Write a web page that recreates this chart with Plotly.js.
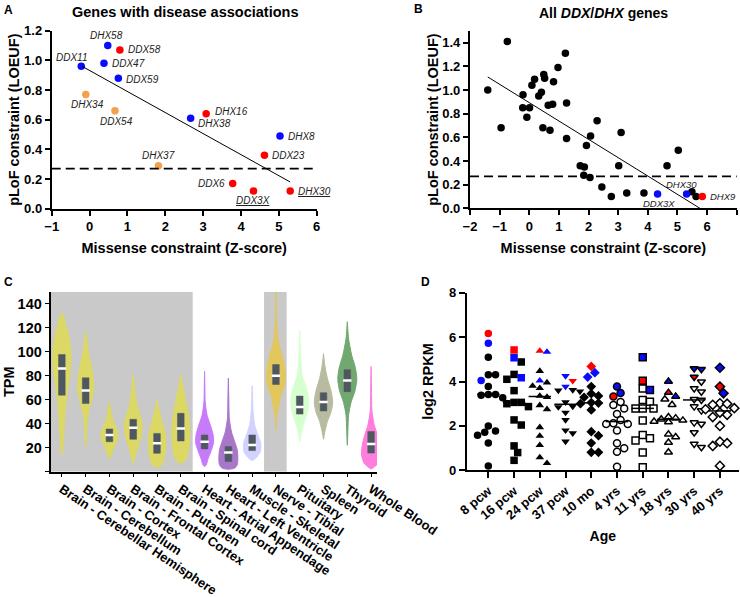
<!DOCTYPE html>
<html>
<head>
<meta charset="utf-8">
<script src="https://cdn.plot.ly/plotly-3.0.1.min.js"></script>
<style>
  html, body { margin: 0; padding: 0; background: #fff; }
  #chart { width: 740px; height: 597px; }
</style>
</head>
<body>
<div id="chart"></div>
<script>
// ---- Panel A: genes with disease associations ----
const aGenes = ['DHX58', 'DDX58', 'DDX11', 'DDX47', 'DDX59', 'DHX34', 'DDX54', 'DHX38', 'DHX16', 'DHX8', 'DDX23', 'DHX37', 'DDX6', 'DDX3X', 'DHX30'];
const aMissenseZ = [0.48, 0.80, -0.22, 0.38, 0.76, -0.10, 0.67, 2.67, 3.08, 5.03, 4.62, 1.82, 3.78, 4.33, 5.30];
const aLoeuf = [1.10, 1.07, 0.96, 0.98, 0.88, 0.77, 0.66, 0.61, 0.64, 0.49, 0.36, 0.29, 0.17, 0.12, 0.12];
const aGroup = ['blue', 'red', 'blue', 'blue', 'blue', 'orange', 'orange', 'blue', 'red', 'blue', 'red', 'orange', 'red', 'red', 'red'];
const aUnderlined = ['DDX3X', 'DHX30'];
const aFitZ = [-0.2, 5.3];
const aFitLoeuf = [0.96, 0.18];
const loeufCutoff = 0.27;

// ---- Panel B: all DDX/DHX genes ----
const bMissenseZ = [-1.40, -0.74, -0.95, -0.21, -0.22, 0.01, -0.08, 0.09, 0.18, 0.32, 0.41, 0.49, 0.52, 0.46, 0.64, 0.79, 0.70, 0.82, 0.97, 1.22,
                    1.26, 1.26, 1.72, 1.86, 1.84, 1.93, 2.07, 2.05, 2.29, 2.45, 2.77, 3.02, 3.10, 3.29, 3.87, 4.65, 5.03, 5.49, 5.63];
const bLoeuf = [1.00, 1.41, 0.68, 0.96, 0.85, 0.85, 0.77, 1.04, 1.09, 0.95, 0.98, 1.13, 1.10, 0.68, 0.87, 0.88, 0.66, 1.07, 1.19, 1.31,
                0.89, 0.59, 0.36, 0.35, 0.28, 0.53, 0.61, 0.26, 0.74, 0.18, 0.10, 0.36, 0.64, 0.13, 0.13, 0.36, 0.49, 0.14, 0.10];
const bHiGenes = ['DDX3X', 'DHX30', 'DHX9'];
const bHiMissenseZ = [4.33, 5.31, 5.84];
const bHiLoeuf = [0.12, 0.12, 0.10];
const bHiGroup = ['blue', 'blue', 'red'];
const bFitZ = [-1.4, 5.76];
const bFitLoeuf = [1.11, 0.0];

// ---- Panel C: expression across tissues (TPM) ----
const tissues = ['Brain - Cerebellar Hemisphere', 'Brain - Cerebellum', 'Brain - Cortex', 'Brain - Frontal Cortex', 'Brain - Putamen',
                 'Brain - Spinal cord', 'Heart - Atrial Appendage', 'Heart - Left Ventricle', 'Muscle - Skeletal', 'Nerve - Tibial',
                 'Pituitary', 'Spleen', 'Thyroid', 'Whole Blood'];
const tpmQ1 = [63.8, 56.8, 25.0, 27.0, 15.3, 25.6, 19.0, 8.5, 17.6, 72.7, 48.0, 50.6, 66.7, 15.5];
const tpmMedian = [86.0, 67.7, 30.6, 36.7, 23.6, 36.0, 25.0, 16.0, 22.3, 80.0, 54.0, 58.0, 76.0, 23.0];
const tpmQ3 = [97.6, 78.2, 35.6, 43.6, 31.9, 48.6, 30.6, 21.0, 30.6, 89.3, 63.0, 65.8, 85.0, 33.5];
// violin outline: TPM levels and relative density at each level (0-30)
const violinTpm = [
  [13.9, 18, 30, 45, 55, 64, 72, 80, 89, 97, 105, 114, 122, 130, 133],
  [21, 25, 33, 44.5, 53, 61, 69, 78, 89, 100, 110, 117.8],
  [10.7, 14, 17, 22, 26, 30.6, 36, 41, 47, 53, 58],
  [7, 10, 14, 22, 30.6, 39, 47, 53, 58, 65, 72, 81],
  [3.5, 5, 8.5, 16.8, 25, 33, 41.6, 52, 60.5],
  [6.8, 8, 10, 17, 28, 39, 50, 61, 72, 81.5],
  [4.3, 6, 10, 17, 24, 30.6, 39, 47, 58, 70, 83.6],
  [2.0, 3, 5.7, 11, 18, 25, 33, 44.5, 60, 78],
  [9.3, 11, 12.6, 16.8, 24, 30.6, 39, 50, 60, 71.6],
  [34.6, 44.5, 52.8, 64, 72, 80.5, 89, 100, 111, 128, 140, 150],
  [25, 30, 36, 44.5, 52.8, 61, 69, 80, 94, 105, 117.8],
  [27, 33, 41.6, 50, 58, 67, 78, 89, 98.5],
  [22, 35, 47, 58, 67, 77, 86, 97, 111, 125],
  [2.3, 4, 7, 14, 22, 30.6, 39, 50, 65, 87.8]
];
const violinDensity = [
  [0, 3, 6, 9, 12, 16, 20, 25, 28, 29, 27, 21, 13, 5, 0],
  [0, 2, 3, 6, 12, 20, 25, 24, 17, 8, 4, 0],
  [0, 6, 10, 17, 24, 27, 22, 14, 7, 4, 0],
  [0, 4, 8, 16, 26, 28, 22, 14, 10, 6, 4, 0],
  [0, 10, 20, 26, 28, 25, 16, 6, 0],
  [0, 8, 16, 24, 28, 28, 22, 14, 6, 0],
  [0, 6, 10, 20, 28, 27, 18, 8, 2, 1, 0],
  [0, 20, 28, 30, 28, 20, 10, 3, 1.5, 0],
  [0, 10, 16, 26, 27, 18, 8, 3, 1.5, 0],
  [0, 2, 7, 16, 27, 30, 26, 16, 6, 2, 1, 0],
  [0, 3, 8, 18, 27, 28, 22, 8, 3, 1.5, 0],
  [0, 4, 12, 24, 29, 24, 12, 4, 0],
  [0, 2, 4, 12, 24, 30, 26, 14, 4, 0],
  [0, 10, 22, 30, 28, 20, 10, 3, 1.5, 0]
];
const tissueColors = ['#dcd865', '#dcd865', '#dcd865', '#dcd865', '#dcd865', '#dcd865', '#c67cfa', '#a977c9', '#d2d2ff',
                      '#e2c75e', '#d6ffd0', '#b9bba0', '#70a870', '#ff7ddc'];

// ---- Panel D: expression across development (log2 RPKM) ----
const ages = ['8 pcw', '16 pcw', '24 pcw', '37 pcw', '10 mo', '4 yrs', '11 yrs', '18 yrs', '30 yrs', '40 yrs'];
const rpkmBlack = [
  [5.09, 4.31, 4.31, 3.78, 3.42, 3.42, 3.38, 3.27, 2.0, 1.77, 1.71, 1.58, 1.23, 0.2],
  [4.88, 4.32, 4.10, 3.59, 3.06, 3.06, 3.0, 2.87, 2.27, 2.04, 1.1, 0.8, 0.45],
  [4.47, 3.95, 3.8, 3.7, 3.35, 3.3, 2.93, 2.75, 1.94, 1.55, 1.13, 0.58, 0.32],
  [3.62, 3.6, 3.55, 3.07, 2.88, 2.85, 2.6, 2.27, 1.8, 1.67, 1.3],
  [3.77, 3.45, 3.35, 3.29, 3.05, 3.03, 3.0, 2.72, 1.74, 1.56, 1.23, 0.81, 0.81],
  [3.08, 2.94, 2.79, 2.54, 2.27, 2.12, 2.09, 2.09, 1.79, 1.22, 0.99, 0.84, 0.16],
  [3.69, 3.17, 3.09, 2.79, 2.79, 2.79, 2.24, 1.59, 1.44, 1.34, 0.80, 0.14],
  [3.2, 2.95, 2.4, 2.35, 2.3, 2.25, 2.2, 2.18, 1.62, 1.5, 1.25, 0.81],
  [3.99, 3.69, 3.54, 3.2, 3.17, 2.87, 2.69, 2.15, 2.09, 1.7, 1.19, 1.04],
  [3.02, 3.0, 2.95, 2.8, 2.75, 2.6, 2.5, 2.4, 2.0, 1.29, 1.22, 1.1, 0.2]
];
const rpkmRed = [[6.16], [5.42], [5.38], [4.03], [4.68], [3.32], [4.03], [3.5], [4.2], [3.77]];
const rpkmBlue = [[5.72, 4.05], [5.07, 4.17], [5.33, 4.04], [4.25, 3.77], [4.40, 4.20], [3.78, 3.48], [5.09, 3.62], [4.0, 3.33], [4.59, 4.55], [4.62, 3.47]];

// ---- styling ----
const FONT = 'Liberation Sans, Arial, sans-serif';
const groupColors = { blue: '#0a0aff', red: '#ff0000', orange: '#f6a04d' };
const boxColor = '#4f5861';

const traces = [];
const annotations = [];
const shapes = [];

function axisBase(extra) {
    return Object.assign({
        showline: true, linecolor: '#000', linewidth: 2, mirror: false,
        ticks: 'outside', ticklen: 5, tickwidth: 2, tickcolor: '#000',
        showgrid: false, zeroline: false, fixedrange: true,
        tickfont: { family: FONT, size: 13, color: '#000', weight: 700 }
    }, extra);
}
function axisTitle(text, standoff, size) {
    return { text, standoff, font: { family: FONT, size: size || 14.5, color: '#000', weight: 700 } };
}

// Panel A scatter + fit
['orange', 'blue', 'red'].forEach(g => {
    const idx = aGroup.map((v, i) => v === g ? i : -1).filter(i => i >= 0);
    traces.push({
        type: 'scatter', mode: 'markers', xaxis: 'x', yaxis: 'y',
        x: idx.map(i => aMissenseZ[i]), y: idx.map(i => aLoeuf[i]),
        marker: { color: groupColors[g], size: 7.5 }, showlegend: false, cliponaxis: false
    });
});
traces.push({ type: 'scatter', mode: 'lines', xaxis: 'x', yaxis: 'y', x: aFitZ, y: aFitLoeuf,
    line: { color: '#000', width: 1 }, showlegend: false });

const aLabelPlacement = {
    DHX58: ['center', -1, 10], DDX58: ['left', 6, 0], DDX11: ['center', -9, 9], DDX47: ['left', 6, 0], DDX59: ['left', 6, -1],
    DHX34: ['center', 2, -10], DDX54: ['center', 2, -11], DHX38: ['left', 5, -5], DHX16: ['left', 7, 2], DHX8: ['left', 6, 0],
    DDX23: ['left', 6, 0], DHX37: ['center', 0, 10], DDX6: ['right', -6, 0], DDX3X: ['center', 0, -10], DHX30: ['left', 6, -1]
};
const labelFont = { family: FONT, size: 10, color: '#222', style: 'italic' };
function geneText(g) {
    return aUnderlined.includes(g) ? '<span style="text-decoration:underline">' + g + '</span>' : g;
}
aGenes.forEach((g, i) => {
    const p = aLabelPlacement[g];
    annotations.push({ xref: 'x', yref: 'y', x: aMissenseZ[i], y: aLoeuf[i], text: geneText(g), showarrow: false,
        xanchor: p[0], yanchor: 'middle', xshift: p[1], yshift: p[2], font: labelFont });
});
shapes.push({ type: 'line', xref: 'x domain', yref: 'y', x0: 0, x1: 1, y0: loeufCutoff, y1: loeufCutoff,
    line: { color: '#000', width: 1.6, dash: '9px,5px' } });

// Panel B scatter + fit
traces.push({ type: 'scatter', mode: 'markers', xaxis: 'x2', yaxis: 'y2', x: bMissenseZ, y: bLoeuf,
    marker: { color: '#000', size: 7.5 }, showlegend: false, cliponaxis: false });
traces.push({ type: 'scatter', mode: 'markers', xaxis: 'x2', yaxis: 'y2', x: bHiMissenseZ, y: bHiLoeuf,
    marker: { color: bHiGroup.map(g => groupColors[g]), size: 7.5 }, showlegend: false, cliponaxis: false });
traces.push({ type: 'scatter', mode: 'lines', xaxis: 'x2', yaxis: 'y2', x: bFitZ, y: bFitLoeuf,
    line: { color: '#000', width: 1 }, showlegend: false, cliponaxis: false });
const bLabelPlacement = { DDX3X: ['center', 1, -9], DHX30: ['center', -5, 10], DHX9: ['left', 6, 0] };
bHiGenes.forEach((g, i) => {
    const p = bLabelPlacement[g];
    annotations.push({ xref: 'x2', yref: 'y2', x: bHiMissenseZ[i], y: bHiLoeuf[i], text: g, showarrow: false,
        xanchor: p[0], yanchor: 'middle', xshift: p[1], yshift: p[2], font: Object.assign({}, labelFont, { size: 9.5 }) });
});
shapes.push({ type: 'line', xref: 'x2 domain', yref: 'y2', x0: 0, x1: 1, y0: loeufCutoff, y1: loeufCutoff,
    line: { color: '#000', width: 1.6, dash: '9px,5px' } });

// Panel C violins
const violinHalfWidth = 0.4;
tissues.forEach((t, i) => {
    const lev = violinTpm[i], den = violinDensity[i];
    const xs = [], ys = [];
    lev.forEach((v, k) => { xs.push(i + den[k] / 30 * violinHalfWidth); ys.push(v); });
    for (let k = lev.length - 1; k >= 0; k--) { xs.push(i - den[k] / 30 * violinHalfWidth); ys.push(lev[k]); }
    traces.push({ type: 'scatter', mode: 'lines', xaxis: 'x3', yaxis: 'y3', x: xs, y: ys, fill: 'toself',
        fillcolor: tissueColors[i], line: { color: tissueColors[i], width: 1, shape: 'spline', smoothing: 0.7 },
        showlegend: false, hoverinfo: 'skip' });
});
// inner boxes (interquartile range), drawn as filled scatter so they sit above the violins
const boxHalf = 0.14;
const boxX = [], boxY = [];
tissues.forEach((t, i) => {
    boxX.push(i - boxHalf, i + boxHalf, i + boxHalf, i - boxHalf, i - boxHalf, null);
    boxY.push(tpmQ1[i], tpmQ1[i], tpmQ3[i], tpmQ3[i], tpmQ1[i], null);
});
traces.push({ type: 'scatter', mode: 'lines', xaxis: 'x3', yaxis: 'y3', x: boxX, y: boxY, fill: 'toself',
    fillcolor: boxColor, line: { color: boxColor, width: 0.5 }, showlegend: false, hoverinfo: 'skip' });
traces.push({ type: 'scatter', mode: 'markers', xaxis: 'x3', yaxis: 'y3', x: tissues.map((t, i) => i), y: tpmMedian,
    marker: { symbol: 'line-ew', size: 6, line: { color: '#fff', width: 2.5 } }, showlegend: false });
shapes.push({ type: 'rect', xref: 'x3', yref: 'y3', x0: -0.47, x1: 5.5, y0: 0, y1: 150, fillcolor: '#c9c9c9', line: { width: 0 }, layer: 'below' });
shapes.push({ type: 'rect', xref: 'x3', yref: 'y3', x0: 8.5, x1: 9.45, y0: 0, y1: 150, fillcolor: '#c9c9c9', line: { width: 0 }, layer: 'below' });

// Panel D: simple beeswarm so points in a column do not overlap
const dSymbols = ['circle', 'square', 'triangle-up', 'triangle-down', 'diamond'];
const pxPerX = 25.74, pxPerY = 22.2, diam = 7.2;
const swarmSteps = [0, 0.5, -0.5, 1, -1, 1.5, -1.5, 2, -2, 2.5, -2.5];
ages.forEach((age, g) => {
    const pts = [];
    rpkmBlack[g].forEach(v => pts.push({ v, c: 'black' }));
    rpkmRed[g].forEach(v => pts.push({ v, c: 'red' }));
    rpkmBlue[g].forEach(v => pts.push({ v, c: 'blue' }));
    pts.sort((a, b) => b.v - a.v);
    const placed = [];
    pts.forEach(p => {
        for (const s of swarmSteps) {
            const dx = s * diam;
            if (placed.every(q => Math.hypot(q.dx - dx, (q.v - p.v) * pxPerY) >= diam - 0.3)) {
                p.dx = dx; placed.push(p); break;
            }
        }
        if (p.dx === undefined) { p.dx = 0; placed.push(p); }
    });
    const open = g >= 5;
    const symbol = dSymbols[g % 5];
    ['black', 'red', 'blue'].forEach(c => {
        const sel = placed.filter(p => p.c === c);
        if (!sel.length) return;
        const fill = c === 'black' ? (open ? '#fff' : '#000') : groupColors[c];
        traces.push({ type: 'scatter', mode: 'markers', xaxis: 'x4', yaxis: 'y4',
            x: sel.map(p => g + p.dx / pxPerX), y: sel.map(p => p.v),
            marker: { symbol, size: open ? 7 : 7.5, color: fill, line: { color: '#000', width: open ? 1.5 : 0 } },
            showlegend: false, cliponaxis: false });
    });
    const all = pts.map(p => p.v).sort((a, b) => a - b);
    const mid = all.length % 2 ? all[(all.length - 1) / 2] : (all[all.length / 2 - 1] + all[all.length / 2]) / 2;
    traces.push({ type: 'scatter', mode: 'markers', xaxis: 'x4', yaxis: 'y4', x: [g], y: [mid],
        marker: { symbol: 'line-ew', size: 16, line: { color: '#000', width: 1.5 } }, showlegend: false, cliponaxis: false });
});

// panel letters and titles
const letterFont = { family: FONT, size: 12, color: '#000', weight: 700 };
[['A', 8, 10], ['B', 418, 9], ['C', 8, 282], ['D', 425, 282]].forEach(([t, x, y]) => {
    annotations.push({ xref: 'paper', yref: 'paper', x: x / 740, y: 1 - y / 597, text: t, showarrow: false,
        xanchor: 'center', yanchor: 'middle', font: letterFont });
});
const titleFont = { family: FONT, size: 14.5, color: '#000', weight: 700 };
annotations.push({ xref: 'paper', yref: 'paper', x: 185 / 740, y: 1 - 12 / 597, text: 'Genes with disease associations',
    showarrow: false, xanchor: 'center', yanchor: 'middle', font: titleFont });
annotations.push({ xref: 'paper', yref: 'paper', x: 603 / 740, y: 1 - 13 / 597, text: 'All <i>DDX</i>/<i>DHX</i> genes',
    showarrow: false, xanchor: 'center', yanchor: 'middle', font: Object.assign({}, titleFont, { size: 14 }) });

const layout = {
    width: 740, height: 597,
    margin: { l: 0, r: 0, t: 0, b: 0 },
    paper_bgcolor: '#fff', plot_bgcolor: 'rgba(0,0,0,0)',
    font: { family: FONT, color: '#000' },
    showlegend: false,
    xaxis: axisBase({ domain: [0.0699, 0.428], range: [-1, 6], dtick: 1, tick0: 0, anchor: 'y',
        title: axisTitle('Missense constraint (Z-score)', 10) }),
    yaxis: axisBase({ domain: [0.6504, 0.9486], range: [0, 1.2], dtick: 0.2, tick0: 0, tickformat: '.1f', anchor: 'x',
        title: axisTitle('pLoF constraint (LOEUF)', 1) }),
    xaxis2: axisBase({ domain: [0.6351, 0.9955], range: [-2, 7], dtick: 1, tick0: 0, anchor: 'y2',
        title: axisTitle('Missense constraint (Z-score)', 10) }),
    yaxis2: axisBase({ domain: [0.6511, 0.9484], range: [0, 1.5], tickvals: [0, 0.2, 0.4, 0.6, 0.8, 1.0, 1.2, 1.4], tickformat: '.1f', anchor: 'x2',
        title: axisTitle('pLoF constraint (LOEUF)', 0) }),
    xaxis3: axisBase({ domain: [0.0685, 0.5095], range: [-0.47, 13.25], tickvals: tissues.map((t, i) => i), ticktext: tissues, tickangle: 34,
        ticklen: 3, tickwidth: 1, anchor: 'y3', tickfont: { family: FONT, size: 13, color: '#000', weight: 700 } }),
    yaxis3: axisBase({ domain: [0.2099, 0.5114], range: [0, 150], tickvals: [0, 20, 40, 60, 80, 100, 120, 140],
        ticktext: ['', '20', '40', '60', '80', '100', '120', '140'], ticklen: 4, tickwidth: 1.5, anchor: 'x3',
        tickfont: { family: FONT, size: 14.5, color: '#000', weight: 700 }, title: axisTitle('TPM', 0) }),
    xaxis4: axisBase({ domain: [0.6307, 0.9986], range: [-0.84, 9.74], tickvals: ages.map((a, i) => i), ticktext: ages, tickangle: -40,
        ticklen: 6, anchor: 'y4', tickfont: { family: FONT, size: 13, color: '#000', weight: 700 }, title: axisTitle('Age', 10, 14) }),
    yaxis4: axisBase({ domain: [0.2122, 0.5097], range: [0, 8], dtick: 2, tick0: 0, anchor: 'x4', ticklen: 6,
        title: axisTitle('log2 RPKM', 12) }),
    shapes,
    annotations
};

Plotly.newPlot('chart', traces, layout, { staticPlot: true, displayModeBar: false });
</script>
</body>
</html>
